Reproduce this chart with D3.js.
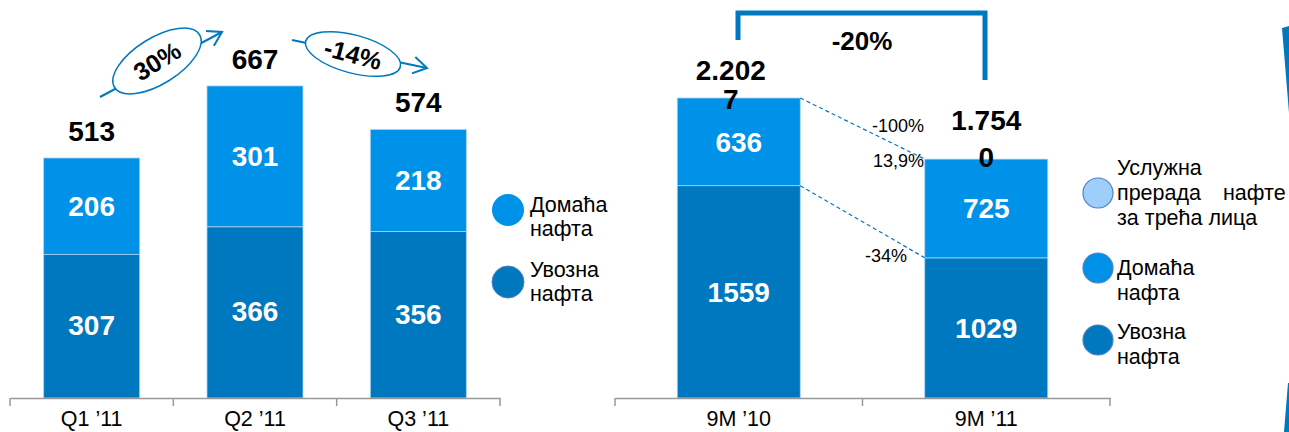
<!DOCTYPE html>
<html>
<head>
<meta charset="utf-8">
<script src="https://cdn.jsdelivr.net/npm/d3@7"></script>
<style>
  body { margin: 0; background: #fff; }
  svg { display: block; font-family: "Liberation Sans", Arial, sans-serif; }
</style>
</head>
<body>
<script>
// podaci - kvartali
var quarters = ["Q1 \u201911", "Q2 \u201911", "Q3 \u201911"];
var qImport = [307, 366, 356];
var qDomestic = [206, 301, 218];
var qTotal = [513, 667, 574];

// podaci - 9 meseci
var periods = ["9M \u201910", "9M \u201911"];
var pImport = [1559, 1029];
var pDomestic = [636, 725];
var pService = [7.7, 0];
var pTotalLabels = [["2.202", "7"], ["1.754", "0"]];

var changeQ = ["30%", "-14%"];
var changeTotal = "-20%";
var changeSeg = ["-100%", "13,9%", "-34%"];

var cDark = "#0078C0", cLight = "#0091E8", cPale = "#9DCFFA";

var W = 1289, H = 432, base = 398;
var bold = 28, legFont = 21.5;
var svg = d3.select("body").append("svg").attr("width", W).attr("height", H);

// ---- lijevi grafikon ----
var x1 = d3.scaleBand().domain(quarters).range([10, 500]).paddingInner(0).paddingOuter(0);
var y1 = d3.scaleLinear().domain([0, 513]).range([base, 158]);
var bw1 = 96;

var g1 = svg.append("g");
quarters.forEach(function(q, i) {
  var cx = x1(q) + x1.bandwidth() / 2;
  g1.append("rect").attr("x", cx - bw1 / 2).attr("width", bw1)
    .attr("y", y1(qImport[i])).attr("height", base - y1(qImport[i]))
    .attr("fill", cDark).attr("stroke", "#a8d4f2").attr("stroke-width", 0.8);
  g1.append("rect").attr("x", cx - bw1 / 2).attr("width", bw1)
    .attr("y", y1(qImport[i] + qDomestic[i])).attr("height", y1(qImport[i]) - y1(qImport[i] + qDomestic[i]))
    .attr("fill", cLight).attr("stroke", "#a8d4f2").attr("stroke-width", 0.8);
  g1.append("text").attr("x", cx).attr("y", (y1(qImport[i]) + base) / 2 + 9)
    .attr("text-anchor", "middle").attr("fill", "#fff").attr("font-weight", "bold").attr("font-size", bold)
    .text(qImport[i]);
  g1.append("text").attr("x", cx).attr("y", (y1(qImport[i]) + y1(qTotal[i])) / 2 + 10)
    .attr("text-anchor", "middle").attr("fill", "#fff").attr("font-weight", "bold").attr("font-size", bold)
    .text(qDomestic[i]);
  g1.append("text").attr("x", cx).attr("y", y1(qTotal[i]) - 17)
    .attr("text-anchor", "middle").attr("fill", "#000").attr("font-weight", "bold").attr("font-size", bold)
    .text(qTotal[i]);
});

var ax1 = g1.append("g").attr("transform", "translate(0," + base + ")")
  .call(d3.axisBottom(x1).tickSize(0).tickPadding(13));
ax1.select(".domain").attr("stroke", "#999").attr("stroke-width", 1.5);
ax1.selectAll("text").attr("font-size", 21.5).attr("fill", "#000").attr("font-family", "Liberation Sans, Arial");
// podioci izmedju kategorija
ax1.selectAll(".sep").data(d3.range(quarters.length + 1)).enter().append("line")
  .attr("x1", function(d) { return 10 + d * x1.bandwidth(); })
  .attr("x2", function(d) { return 10 + d * x1.bandwidth(); })
  .attr("y1", 0).attr("y2", 8).attr("stroke", "#999").attr("stroke-width", 1.5);

// strelice sa elipsama
function arrow(g, p0, p1, c, ang, rx, ry, label) {
  g.append("line").attr("x1", p0[0]).attr("y1", p0[1]).attr("x2", p1[0]).attr("y2", p1[1])
    .attr("stroke", cDark).attr("stroke-width", 2);
  var a = Math.atan2(p1[1] - p0[1], p1[0] - p0[0]);
  var L = 16, s = 0.55;
  g.append("polyline").attr("fill", "none").attr("stroke", cDark).attr("stroke-width", 2)
    .attr("points", [
      [p1[0] - L * Math.cos(a - s), p1[1] - L * Math.sin(a - s)],
      p1,
      [p1[0] - L * Math.cos(a + s), p1[1] - L * Math.sin(a + s)]
    ].map(function(p) { return p.join(","); }).join(" "));
  var eg = g.append("g").attr("transform", "translate(" + c[0] + "," + c[1] + ") rotate(" + ang + ")");
  eg.append("ellipse").attr("rx", rx).attr("ry", ry).attr("fill", "#fff").attr("stroke", cDark).attr("stroke-width", 1.5);
  eg.append("text").attr("y", 9).attr("text-anchor", "middle").attr("font-weight", "bold")
    .attr("font-size", 25).text(label);
}
arrow(g1, [100, 97], [222, 32], [157, 61], -32, 50, 23, changeQ[0]);
arrow(g1, [292, 40], [427, 68], [353, 54], 15, 49, 19, changeQ[1]);

// legenda lijevo
var leg1 = [
  {c: cLight, lines: ["Домаћа", "нафта"], cy: 210, ty: 212},
  {c: cDark, lines: ["Увозна", "нафта"], cy: 282, ty: 277}
];
leg1.forEach(function(d) {
  svg.append("circle").attr("cx", 508).attr("cy", d.cy).attr("r", 16).attr("fill", d.c)
    .attr("stroke", d.c === cDark ? "#4f7fc0" : "none").attr("stroke-width", 1);
  var t = svg.append("text").attr("x", 530).attr("y", d.ty).attr("font-size", legFont);
  d.lines.forEach(function(l, k) {
    t.append("tspan").attr("x", 530).attr("dy", k === 0 ? 0 : 24).text(l);
  });
});

// ---- desni grafikon ----
var x2 = d3.scaleBand().domain(periods).range([615, 1110]).paddingInner(0).paddingOuter(0);
var y2 = d3.scaleLinear().domain([0, 2202.7]).range([base, 98]);
var bw2 = 123;

var g2 = svg.append("g");
var tops = [];
periods.forEach(function(p, i) {
  var cx = x2(p) + x2.bandwidth() / 2;
  var yi = y2(pImport[i]), yd = y2(pImport[i] + pDomestic[i]), ys = y2(pImport[i] + pDomestic[i] + pService[i]);
  tops.push({cx: cx, yi: yi, yd: yd, ys: ys});
  g2.append("rect").attr("x", cx - bw2 / 2).attr("width", bw2).attr("y", yi).attr("height", base - yi)
    .attr("fill", cDark).attr("stroke", "#a8d4f2").attr("stroke-width", 0.8);
  g2.append("rect").attr("x", cx - bw2 / 2).attr("width", bw2).attr("y", ys).attr("height", yi - ys)
    .attr("fill", cLight).attr("stroke", "#a8d4f2").attr("stroke-width", 0.8);
  g2.append("text").attr("x", cx).attr("y", (yi + base) / 2 + 10)
    .attr("text-anchor", "middle").attr("fill", "#fff").attr("font-weight", "bold").attr("font-size", bold)
    .text(pImport[i]);
  g2.append("text").attr("x", cx).attr("y", (yi + yd) / 2 + 10)
    .attr("text-anchor", "middle").attr("fill", "#fff").attr("font-weight", "bold").attr("font-size", bold)
    .text(pDomestic[i]);
});

// ukupni iznosi (prelomljeni u dva reda)
g2.append("text").attr("x", tops[0].cx - 8).attr("y", 80).attr("text-anchor", "middle")
  .attr("font-weight", "bold").attr("font-size", bold).text(pTotalLabels[0][0]);
g2.append("text").attr("x", tops[0].cx - 8).attr("y", 109).attr("text-anchor", "middle")
  .attr("font-weight", "bold").attr("font-size", bold).text(pTotalLabels[0][1]);
g2.append("text").attr("x", tops[1].cx).attr("y", 130).attr("text-anchor", "middle")
  .attr("font-weight", "bold").attr("font-size", bold).text(pTotalLabels[1][0]);
g2.append("text").attr("x", tops[1].cx).attr("y", 167).attr("text-anchor", "middle")
  .attr("font-weight", "bold").attr("font-size", bold).text(pTotalLabels[1][1]);

// isprekidane linije
var right0 = tops[0].cx + bw2 / 2, left1 = tops[1].cx - bw2 / 2;
g2.append("line").attr("x1", right0).attr("y1", tops[0].ys).attr("x2", left1).attr("y2", tops[1].yd)
  .attr("stroke", cDark).attr("stroke-width", 1.2).attr("stroke-dasharray", "4,3");
g2.append("line").attr("x1", right0).attr("y1", tops[0].yi).attr("x2", left1).attr("y2", tops[1].yi)
  .attr("stroke", cDark).attr("stroke-width", 1.2).attr("stroke-dasharray", "4,3");

g2.append("text").attr("x", 924).attr("y", 132).attr("text-anchor", "end").attr("font-size", 18).text(changeSeg[0]);
g2.append("text").attr("x", 924).attr("y", 167).attr("text-anchor", "end").attr("font-size", 18).text(changeSeg[1]);
g2.append("text").attr("x", 907).attr("y", 262).attr("text-anchor", "end").attr("font-size", 18).text(changeSeg[2]);

// zagrada -20%
g2.append("path").attr("d", "M738,40 V13 H985 V80").attr("fill", "none")
  .attr("stroke", cDark).attr("stroke-width", 5);
g2.append("text").attr("x", 862).attr("y", 50).attr("text-anchor", "middle")
  .attr("font-weight", "bold").attr("font-size", 26).text(changeTotal);

var ax2 = g2.append("g").attr("transform", "translate(0," + base + ")")
  .call(d3.axisBottom(x2).tickSize(0).tickPadding(13));
ax2.select(".domain").attr("stroke", "#999").attr("stroke-width", 1.5);
ax2.selectAll("text").attr("font-size", 21.5).attr("fill", "#000").attr("font-family", "Liberation Sans, Arial");
ax2.selectAll(".sep").data(d3.range(periods.length + 1)).enter().append("line")
  .attr("x1", function(d) { return 615 + d * x2.bandwidth(); })
  .attr("x2", function(d) { return 615 + d * x2.bandwidth(); })
  .attr("y1", 0).attr("y2", 8).attr("stroke", "#999").attr("stroke-width", 1.5);

// legenda desno (redovi: [tekst, x])
var leg2 = [
  {c: cPale, lines: [[["Услужна", 1117]], [["прерада", 1117], ["нафте", 1223]], [["за трећа лица", 1117]]], cy: 193, ty: 175},
  {c: cLight, lines: [[["Домаћа", 1117]], [["нафта", 1117]]], cy: 268, ty: 275},
  {c: cDark, lines: [[["Увозна", 1117]], [["нафта", 1117]]], cy: 340, ty: 339}
];
leg2.forEach(function(d) {
  svg.append("circle").attr("cx", 1098).attr("cy", d.cy).attr("r", 15).attr("fill", d.c)
    .attr("stroke", "#4f7fc0").attr("stroke-width", 1.2);
  d.lines.forEach(function(line, k) {
    line.forEach(function(part) {
      svg.append("text").attr("x", part[1]).attr("y", d.ty + k * 25)
        .attr("font-size", legFont).text(part[0]);
    });
  });
});

// ukras na desnoj ivici
svg.append("path").attr("d", "M1282,28 L1289,26 L1289,113 Z").attr("fill", cDark);
svg.append("path").attr("d", "M1288,383 L1289,383 L1289,432 L1284,432 Z").attr("fill", cDark);
</script>
</body>
</html>
